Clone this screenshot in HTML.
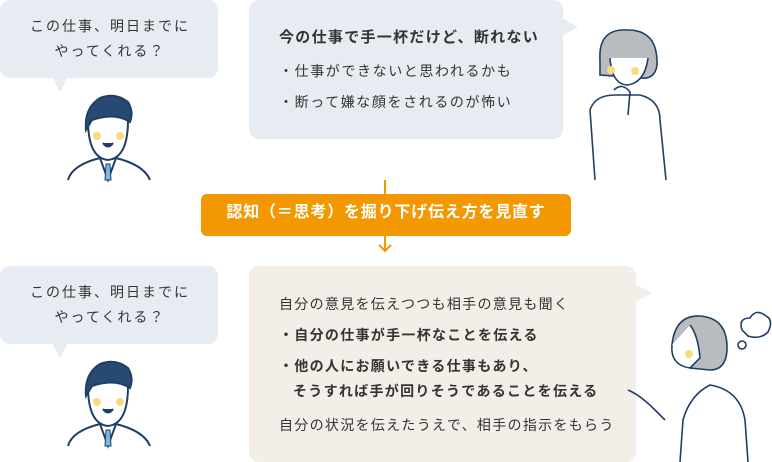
<!DOCTYPE html>
<html><head><meta charset="utf-8"><style>
body{margin:0;width:772px;height:462px;position:relative;background:#fff;overflow:hidden;font-family:"Liberation Sans","Noto Sans CJK JP",sans-serif;color:#333}
.t{position:absolute;white-space:nowrap;font-size:14px;line-height:1;letter-spacing:1.3px}
.b{font-weight:bold}
</style></head><body>
<svg width="772" height="462" style="position:absolute;left:0;top:0">
<rect x="0" y="0" width="218" height="78" rx="10" fill="#e6ecf2"/>
<polygon points="52,77 68,77 60,92" fill="#e6ecf2"/>
<rect x="249" y="0" width="314" height="139" rx="10" fill="#e6ecf2"/>
<polygon points="562,18 578,27 562,36" fill="#e6ecf2"/>
<rect x="0" y="266" width="218" height="78" rx="10" fill="#e6ecf2"/>
<polygon points="52,343 68,343 60,358" fill="#e6ecf2"/>
<rect x="249" y="266" width="387" height="196" rx="10" fill="#f3eee8"/>
<polygon points="635,284 652,293 635,302" fill="#f3eee8"/>
<line x1="385" y1="180" x2="385" y2="196" stroke="#f39800" stroke-width="2"/>
<rect x="201" y="194" width="370" height="42" rx="6" fill="#f39800"/>
<line x1="385" y1="236" x2="385" y2="250" stroke="#f39800" stroke-width="2"/>
<polyline points="379,245 385,251 391,245" fill="none" stroke="#f39800" stroke-width="2"/>
<g id="man" stroke="#1f3f66" stroke-width="2" fill="none">
<path d="M88,120 Q88,158 108,160 Q128,158 128,120" fill="#fff"/>
<path d="M86,130 Q84,108 100,98 Q115,92 128,102 Q134,112 130,122 Q115,112 92,120 Z" fill="#264a72"/>
<circle cx="97" cy="136" r="4" fill="#f7dc7c" stroke="none"/>
<circle cx="120" cy="136" r="4" fill="#f7dc7c" stroke="none"/>
<path d="M103,143 Q108,150 113,143" fill="#1f3f66"/>
<path d="M68,180 Q72,165 100,158 L108,180 L116,158 Q144,165 150,180"/>
<path d="M106,164 L110,164 L111,180 L105,180 Z" fill="#7fb6e6" stroke-width="1"/>
</g>
<use href="#man" y="266"/>
<g stroke="#1f3f66" stroke-width="1.6" fill="none">
<path d="M600,60 Q598,28 628,30 Q658,30 657,65 Q655,80 640,78 L600,75 Z" fill="#b8bcbf"/>
<path d="M610,58 Q612,85 628,85 Q645,82 648,58" fill="#fff"/>
<circle cx="611" cy="70" r="4" fill="#f7dc7c" stroke="none"/>
<circle cx="635" cy="71" r="4" fill="#f7dc7c" stroke="none"/>
<path d="M595,180 L590,110 Q595,95 615,95 L640,95 Q660,100 660,120 L666,180"/>
<path d="M614,90 Q622,82 630,92 L628,115"/>
</g>
<g stroke="#1f3f66" stroke-width="1.6" fill="none">
<path d="M672,345 Q675,315 700,316 Q728,318 727,350 Q726,370 710,370 L690,368 Z" fill="#b8bcbf"/>
<path d="M672,345 Q670,365 690,368 L700,358 Q698,335 690,325" fill="#fff"/>
<circle cx="689" cy="354" r="4" fill="#f7dc7c" stroke="none"/>
<path d="M680,462 L683,420 Q690,395 710,385 Q740,390 745,420 L748,462"/>
<path d="M628,390 Q640,395 655,410 L665,420"/>
<path d="M742,330 Q738,318 750,318 Q756,308 766,316 Q774,320 768,332 Q760,340 748,336 Z"/>
<circle cx="742" cy="345" r="4"/>
</g>
</svg>
<div class="t" style="left:0;width:220px;text-align:center;top:19px;letter-spacing:2px">この仕事、明日までに</div>
<div class="t" style="left:0;width:220px;text-align:center;top:44px;letter-spacing:2px">やってくれる？</div>
<div class="t b" style="left:279px;top:30px;font-size:15px;letter-spacing:1.3px">今の仕事で手一杯だけど、断れない</div>
<div class="t" style="left:279px;top:64px;letter-spacing:1.6px">・仕事ができないと思われるかも</div>
<div class="t" style="left:279px;top:95px;letter-spacing:1.6px">・断って嫌な顔をされるのが怖い</div>
<div class="t b" style="left:201px;width:370px;text-align:center;top:205px;color:#fff;font-size:16px;letter-spacing:0.8px">認知（＝思考）を掘り下げ伝え方を見直す</div>
<div class="t" style="left:0;width:220px;text-align:center;top:285px;letter-spacing:2px">この仕事、明日までに</div>
<div class="t" style="left:0;width:220px;text-align:center;top:310px;letter-spacing:2px">やってくれる？</div>
<div class="t" style="left:279px;top:297px">自分の意見を伝えつつも相手の意見も聞く</div>
<div class="t b" style="left:279px;top:328px">・自分の仕事が手一杯なことを伝える</div>
<div class="t b" style="left:279px;top:359px">・他の人にお願いできる仕事もあり、</div>
<div class="t b" style="left:293px;top:384px">そうすれば手が回りそうであることを伝える</div>
<div class="t" style="left:279px;top:418px">自分の状況を伝えたうえで、相手の指示をもらう</div>
</body></html>
